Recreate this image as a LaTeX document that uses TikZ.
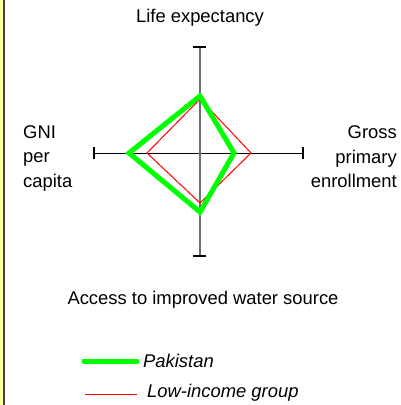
\documentclass[tikz,border=0pt]{standalone}
\usepackage{fontspec}
\setmainfont{Liberation Sans}
\definecolor{pakgreen}{RGB}{0,255,0}
\definecolor{lowred}{RGB}{255,0,0}
\definecolor{paleyellow}{RGB}{255,255,170}
\definecolor{edgegray}{RGB}{64,64,64}
\definecolor{axisgray}{RGB}{110,110,110}
\begin{document}
\begin{tikzpicture}[x=1pt,y=-1pt,
  lbl/.style={inner sep=0pt,font=\fontsize{18.4}{24.5}\selectfont},
  leg/.style={inner sep=0pt,anchor=west,font=\fontsize{18.4}{24.5}\selectfont\itshape},
  axisline/.style={black,line width=1pt},
  tickline/.style={black,line width=1.3pt},
  pakline/.style={pakgreen,line width=5pt,line join=miter},
  lowline/.style={lowred,line width=1pt,line join=miter}]
\useasboundingbox (0,0) rectangle (401,405);
\fill[white] (0,0) rectangle (401,405);
\fill[paleyellow] (0,0) rectangle (3,405);
\draw[edgegray,line width=2pt] (4,0) -- (4,405);
% axes
\coordinate (c) at (200,153);
\coordinate (top) at (200,47);
\coordinate (bot) at (200,256);
\coordinate (lft) at (94,153);
\coordinate (rgt) at (303,153);
\draw[axisline] (lft) -- (rgt);
\draw[axisgray,line width=2pt] (top) -- (bot);
\draw[tickline] ([xshift=-7pt]top) -- ([xshift=6pt]top);
\draw[tickline] ([xshift=-7pt]bot) -- ([xshift=6pt]bot);
\draw[tickline] ([yshift=-6pt]lft) -- ([yshift=6pt]lft);
\draw[tickline] ([yshift=-6pt]rgt) -- ([yshift=6pt]rgt);
% data
\coordinate (rt) at (200,99);
\coordinate (rr) at (251,153);
\coordinate (rb) at (200,203);
\coordinate (rl) at (147,153);
\draw[lowline] (rt) -- (rr) -- (rb) -- (rl) -- cycle;
\coordinate (gt) at (200,96);
\coordinate (gr) at (234,153);
\coordinate (gb) at (200,212);
\coordinate (gl) at (129,153);
\draw[pakline] (gt) -- (gr) -- (gb) -- (gl) -- cycle;
% labels
\node[lbl] (life) at (200,18) {Life expectancy};
\node[lbl,anchor=west,align=left] (gni) at (23,158) {GNI\\per\\capita};
\node[lbl,anchor=east,align=right] (gross) at (397,157) {Gross\\primary\\enrollment};
\node[lbl] (water) at (203,300) {Access to improved water source};
% legend
\coordinate (pa) at (84,361);
\coordinate (pb) at (137,361);
\draw[pakgreen,line width=5pt,line cap=round] (pa) -- (pb);
\node[leg] (pak) at (143,361) {Pakistan};
\coordinate (la) at (85,394);
\coordinate (lb) at (137,394);
\draw[lowred,line width=1pt] (la) -- (lb);
\node[leg] (low) at (147,393) {Low-income group};
\end{tikzpicture}
\end{document}
